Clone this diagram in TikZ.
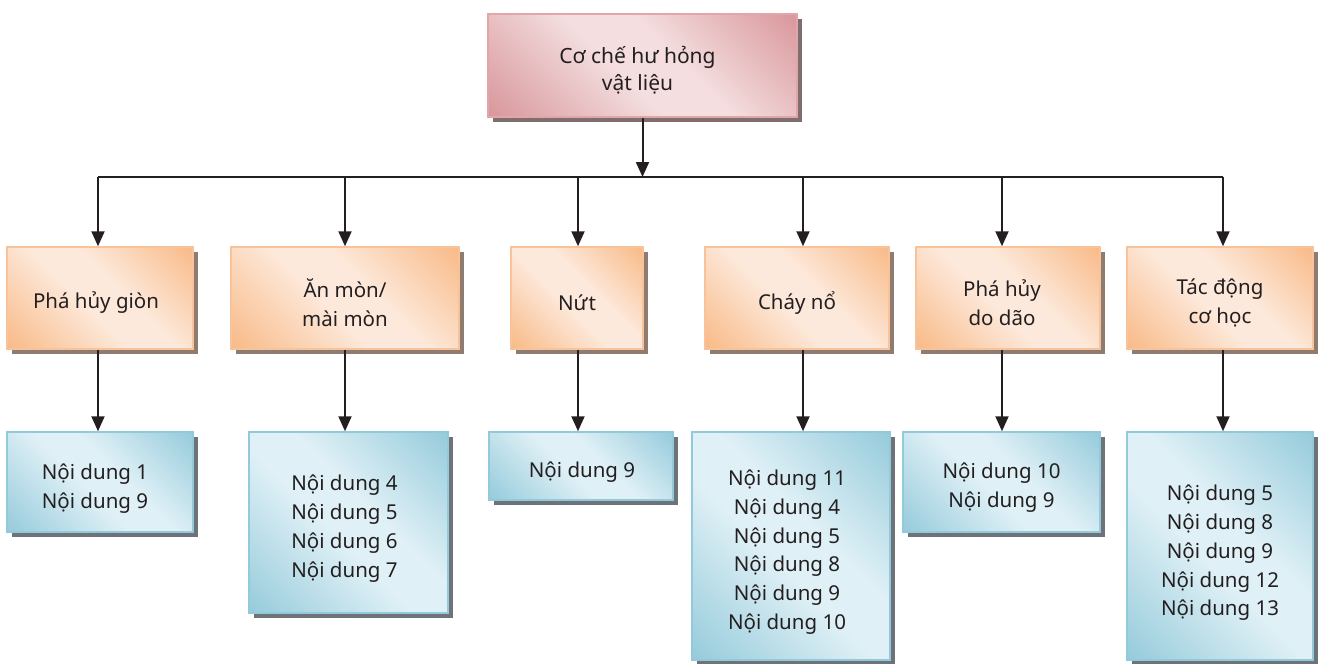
\documentclass[tikz,border=0pt]{standalone}
\usepackage{fontspec}
\setmainfont{Noto Sans}
\usetikzlibrary{arrows.meta,shadows}
\definecolor{oLight}{HTML}{FDE9DB}
\definecolor{oDark}{HTML}{F8B985}
\definecolor{oBorder}{HTML}{F8C39A}
\definecolor{oShadow}{HTML}{8E7C70}
\definecolor{bLight}{HTML}{DFF0F6}
\definecolor{bDark}{HTML}{94CADB}
\definecolor{bBorder}{HTML}{92CADB}
\definecolor{bShadow}{HTML}{6D7379}
\definecolor{pLight}{HTML}{F4DEDF}
\definecolor{pDark}{HTML}{D8959A}
\definecolor{pBorder}{HTML}{E2A5A9}
\definecolor{pShadow}{HTML}{7E6E6E}
\definecolor{ink}{HTML}{231F20}
\pgfdeclarehorizontalshading{orangesh}{100bp}{color(0bp)=(oDark); color(14bp)=(oDark); color(45bp)=(oLight); color(57bp)=(oLight); color(86bp)=(oDark); color(100bp)=(oDark)}
\pgfdeclarehorizontalshading{bluesh}{100bp}{color(0bp)=(bDark); color(14bp)=(bDark); color(45bp)=(bLight); color(57bp)=(bLight); color(86bp)=(bDark); color(100bp)=(bDark)}
\pgfdeclarehorizontalshading{pinksh}{100bp}{color(0bp)=(pDark); color(14bp)=(pDark); color(45bp)=(pLight); color(57bp)=(pLight); color(86bp)=(pDark); color(100bp)=(pDark)}
\tikzset{
  basebox/.style={draw, line width=1.5pt, inner sep=0pt, shading angle=45},
  orangebox/.style={basebox, draw=oBorder, shading=orangesh,
    drop shadow={shadow xshift=5pt, shadow yshift=-5pt, fill=oShadow, opacity=1},
    minimum height=102pt},
  bluebox/.style={basebox, draw=bBorder, shading=bluesh,
    drop shadow={shadow xshift=5pt, shadow yshift=-5pt, fill=bShadow, opacity=1}},
  pinkbox/.style={basebox, draw=pBorder, shading=pinksh,
    drop shadow={shadow xshift=5pt, shadow yshift=-5pt, fill=pShadow, opacity=1}},
  txt/.style={inner sep=0pt, align=center, text=ink, font=\fontsize{20.5}{28.8}\selectfont},
  toptxt/.style={txt, font=\fontsize{21}{27}\selectfont},
  conn/.style={draw=ink, line width=2pt},
  arr/.style={conn, -{Triangle[width=13pt,length=15pt]}}
}
\begin{document}
\begin{tikzpicture}[x=1pt,y=-1pt]
\useasboundingbox (0,0) rectangle (1320,664);
% top
\node[pinkbox, minimum width=309pt, minimum height=103pt] (top) at (642.5,65.5) {};
\node[toptxt] (topt) at ([xshift=-5pt,yshift=-5pt]top.center) {Cơ chế hư hỏng\\vật liệu};
% orange row
\node[orangebox, minimum width=186pt] (o1) at (100,298) {};
\node[orangebox, minimum width=228pt] (o2) at (345,298) {};
\node[orangebox, minimum width=132pt] (o3) at (577,298) {};
\node[orangebox, minimum width=184pt] (o4) at (797,298) {};
\node[orangebox, minimum width=184pt] (o5) at (1008,298) {};
\node[orangebox, minimum width=186pt] (o6) at (1220,298) {};
\node[txt] (o1t) at ([xshift=-4pt,yshift=-5pt]o1.center) {Phá hủy giòn};
\node[txt] (o2t) at ([yshift=-5pt]o2.center) {Ăn mòn/\\mài mòn};
\node[txt] (o3t) at ([yshift=-5pt]o3.center) {Nứt};
\node[txt] (o4t) at ([yshift=-5pt]o4.center) {Cháy nổ};
\node[txt] (o5t) at ([xshift=-6pt,yshift=-5pt]o5.center) {Phá hủy\\do dão};
\node[txt] (o6t) at ([yshift=-5pt]o6.center) {Tác động\\cơ học};
% blue row
\node[bluebox, minimum width=186pt, minimum height=100pt] (b1) at (100,482) {};
\node[bluebox, minimum width=199pt, minimum height=181pt] (b2) at (348.5,522.5) {};
\node[bluebox, minimum width=184pt, minimum height=68pt] (b3) at (581,466) {};
\node[bluebox, minimum width=198pt, minimum height=228pt] (b4) at (791,546) {};
\node[bluebox, minimum width=197pt, minimum height=100pt] (b5) at (1001.5,482) {};
\node[bluebox, minimum width=186pt, minimum height=228pt] (b6) at (1220,546) {};
\node[txt] (b1t) at ([xshift=-5pt,yshift=-7pt]b1.center) {Nội dung 1\\Nội dung 9};
\node[txt] (b2t) at ([xshift=-4pt,yshift=-6pt]b2.center) {Nội dung 4\\Nội dung 5\\Nội dung 6\\Nội dung 7};
\node[txt] (b3t) at ([xshift=1pt,yshift=-6pt]b3.center) {Nội dung 9};
\node[txt] (b4t) at ([xshift=-4pt,yshift=-6pt]b4.center) {Nội dung 11\\Nội dung 4\\Nội dung 5\\Nội dung 8\\Nội dung 9\\Nội dung 10};
\node[txt] (b5t) at ([yshift=-6pt]b5.center) {Nội dung 10\\Nội dung 9};
\node[txt] (b6t) at ([yshift=-7pt]b6.center) {Nội dung 5\\Nội dung 8\\Nội dung 9\\Nội dung 12\\Nội dung 13};
% bus
\coordinate (d1) at (98,177);
\coordinate (d2) at (345,177);
\coordinate (d3) at (578,177);
\coordinate (d4) at (803,177);
\coordinate (d5) at (1002,177);
\coordinate (d6) at (1223,177);
\draw[conn] (d1) -- (d6);
\draw[arr] (top.south) -- (top.south |- d1);
\foreach \i in {1,...,6}{
  \draw[arr] (d\i) -- (d\i |- o\i.north);
  \draw[arr] (d\i |- o\i.south) -- (d\i |- b\i.north);
}
\end{tikzpicture}
\end{document}
